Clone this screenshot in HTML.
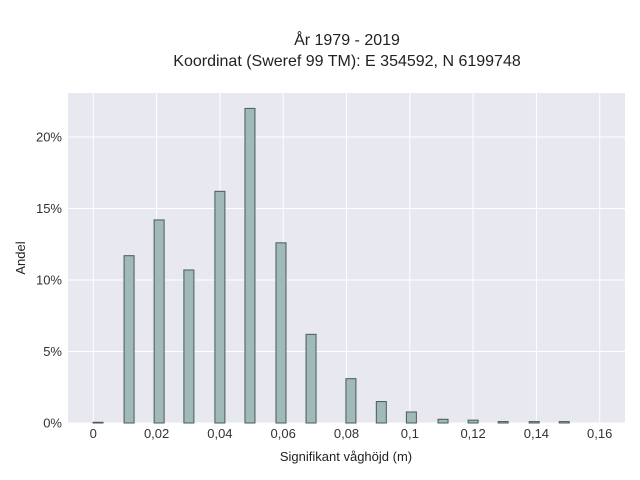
<!DOCTYPE html>
<html><head><meta charset="utf-8"><style>
body{margin:0;background:#fff;}
svg{display:block;font-family:"Liberation Sans",sans-serif;}
</style></head><body>
<svg id="chart" width="640" height="480">
<text x="347" y="45" text-anchor="middle" font-size="16" fill="#222">År 1979 - 2019</text>
<text x="347" y="66" text-anchor="middle" font-size="16" fill="#222">Koordinat (Sweref 99 TM): E 354592, N 6199748</text>
<rect x="68" y="93" width="557" height="330" fill="#e8e8f0"/>
<g id="grid"></g>
<g id="bars"></g>
<g id="ticks"></g>
<text x="346" y="461" text-anchor="middle" font-size="13" fill="#222">Signifikant våghöjd (m)</text>
<text transform="translate(25,258) rotate(-90)" text-anchor="middle" font-size="13" fill="#222">Andel</text>
</svg>
<script>
const binCenters=[0.0015,0.0113,0.0208,0.0302,0.040,0.0495,0.0593,0.0688,0.0814,0.091,0.1005,0.1105,0.12,0.1295,0.1393,0.1488];
const shares=[0.05,11.7,14.2,10.7,16.2,22.0,12.6,6.2,3.1,1.5,0.77,0.26,0.2,0.1,0.1,0.1];
const xTicks=[0,0.02,0.04,0.06,0.08,0.1,0.12,0.14,0.16];
const xTickLabels=["0","0,02","0,04","0,06","0,08","0,1","0,12","0,14","0,16"];
const yTicks=[0,5,10,15,20];
const yTickLabels=["0%","5%","10%","15%","20%"];
const NS="http://www.w3.org/2000/svg";
function xs(v){return 93.3+v*3165;}
function ys(v){return 423-v*14.3;}
const grid=document.getElementById('grid'),bars=document.getElementById('bars'),ticks=document.getElementById('ticks');
xTicks.forEach((t,i)=>{
 const l=document.createElementNS(NS,'line');
 l.setAttribute('x1',xs(t));l.setAttribute('x2',xs(t));l.setAttribute('y1',93);l.setAttribute('y2',423);
 l.setAttribute('stroke','#fff');l.setAttribute('stroke-width','1');
 
 
 grid.appendChild(l);
 const tx=document.createElementNS(NS,'text');
 tx.setAttribute('x',xs(t));tx.setAttribute('y',438);tx.setAttribute('text-anchor','middle');tx.setAttribute('font-size','13');tx.setAttribute('fill','#333');
 tx.textContent=xTickLabels[i];
 
 
 ticks.appendChild(tx);
});
yTicks.forEach((t,i)=>{
 const l=document.createElementNS(NS,'line');
 l.setAttribute('x1',68);l.setAttribute('x2',625);l.setAttribute('y1',ys(t));l.setAttribute('y2',ys(t));
 l.setAttribute('stroke','#fff');l.setAttribute('stroke-width','1');
 
 
 grid.appendChild(l);
 const tx=document.createElementNS(NS,'text');
 tx.setAttribute('x',62);tx.setAttribute('y',ys(t)+4.5);tx.setAttribute('text-anchor','end');tx.setAttribute('font-size','13');tx.setAttribute('fill','#333');
 tx.textContent=yTickLabels[i];
 
 
 ticks.appendChild(tx);
});
binCenters.forEach((c,i)=>{
 const r=document.createElementNS(NS,'rect');
 const y=ys(shares[i]);
 r.setAttribute('x',xs(c)-5);r.setAttribute('width',10);r.setAttribute('y',y);r.setAttribute('height',Math.max(423-y,0.5));
 r.setAttribute('fill','#a0b9b9');r.setAttribute('stroke','#4a5a5a');r.setAttribute('stroke-width','1');
 
 
 bars.appendChild(r);
});
</script>
</body></html>
